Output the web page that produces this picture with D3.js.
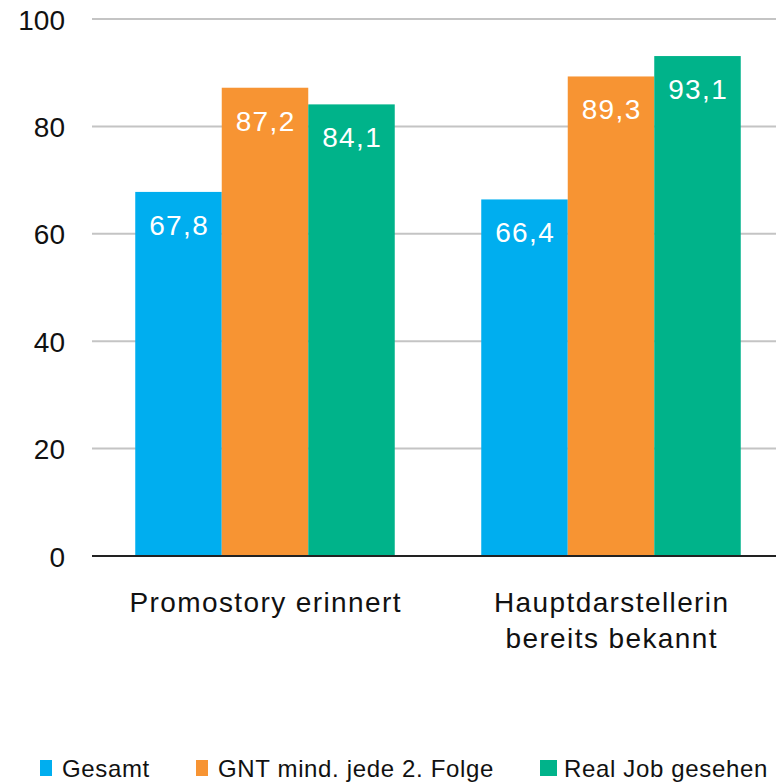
<!DOCTYPE html>
<html><head><meta charset="utf-8">
<script src="https://cdn.jsdelivr.net/npm/d3@7"></script>
<style>body{margin:0;background:#fff}svg{display:block;font-family:"Liberation Sans",Arial,sans-serif}</style>
</head><body><svg id="c" width="776" height="784"></svg>
<script>
const categories = [["Promostory erinnert"], ["Hauptdarstellerin", "bereits bekannt"]];
const seriesNames = ["Gesamt", "GNT mind. jede 2. Folge", "Real Job gesehen"];
const gesamt = [67.8, 66.4];
const gnt = [87.2, 89.3];
const realJob = [84.1, 93.1];
const yTicks = [0, 20, 40, 60, 80, 100];
const colors = ["#00AEEF", "#F79433", "#00B38A"];

(function () {
const series = [gesamt, gnt, realJob];
const svg = d3.select("#c");
const pLeft = 92, pRight = 784, pTop = 19, pBottom = 556;
const x0 = d3.scaleBand().domain(d3.range(categories.length)).range([pLeft, pRight]).paddingInner(0.25).paddingOuter(0.125);
const x1 = d3.scaleBand().domain(d3.range(series.length)).range([0, x0.bandwidth()]);
const y = d3.scaleLinear().domain([0, 100]).range([pBottom, pTop]);
const fmt = v => d3.format(".1f")(v).replace(".", ",");

// grid
svg.append("g").selectAll("line").data(yTicks.filter(t => t > 0)).join("line")
  .attr("x1", pLeft).attr("x2", 776).attr("y1", d => y(d)).attr("y2", d => y(d))
  .attr("stroke", "#c4c4c4").attr("stroke-width", 2);

// y axis labels
const yAxis = d3.axisLeft(y).tickValues(yTicks).tickSize(0).tickPadding(0);
const ya = svg.append("g").attr("transform", `translate(65,0)`).call(yAxis);
ya.select(".domain").remove();
ya.selectAll("text").attr("font-size", 28).attr("fill", "#111").attr("font-family", "Liberation Sans, Arial, sans-serif").attr("dy", "0.36em");

// bars
categories.forEach((c, ci) => {
  series.forEach((s, si) => {
    const bx = x0(ci) + x1(si);
    svg.append("rect").attr("x", bx).attr("y", y(s[ci])).attr("width", x1.bandwidth()).attr("height", y(0) - y(s[ci])).attr("fill", colors[si]);
    svg.append("text").attr("x", bx + x1.bandwidth() / 2 + 0.7).attr("y", y(s[ci]) + 43)
      .attr("text-anchor", "middle").attr("font-size", 28).attr("letter-spacing", 1.4).attr("fill", "#fff").text(fmt(s[ci]));
  });
});

// baseline
svg.append("line").attr("x1", pLeft).attr("x2", 776).attr("y1", y(0)).attr("y2", y(0)).attr("stroke", "#222").attr("stroke-width", 2);

// category labels
categories.forEach((lines, ci) => {
  const t = svg.append("text").attr("text-anchor", "middle").attr("font-size", 28).attr("letter-spacing", 1.4).attr("fill", "#111");
  lines.forEach((l, li) => t.append("tspan").attr("x", x0(ci) + x0.bandwidth() / 2 + 0.7).attr("y", 612 + li * 36).text(l));
});

// legend
const legX = [40, 196, 540];
const legW = [12, 12, 17];
const legT = [62, 218, 564];
seriesNames.forEach((n, i) => {
  svg.append("rect").attr("x", legX[i]).attr("y", 760).attr("width", legW[i]).attr("height", 16).attr("fill", colors[i]);
  svg.append("text").attr("x", legT[i]).attr("y", 777).attr("font-size", 24).attr("fill", "#111").attr("letter-spacing", 0.65).text(n);
});
})();
</script></body></html>
